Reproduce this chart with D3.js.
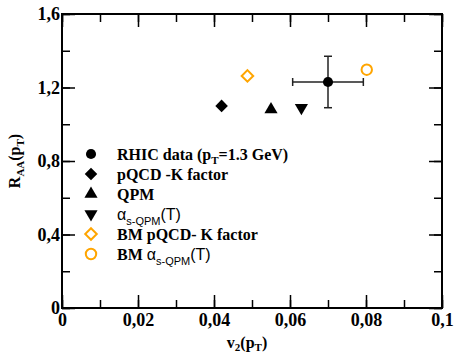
<!DOCTYPE html>
<html>
<head>
<meta charset="utf-8">
<script src="https://cdn.jsdelivr.net/npm/d3@7"></script>
<style>
  body { margin: 0; background: #fff; }
  text { font-family: "Liberation Serif", serif; font-weight: bold; }
  .sans { font-family: "Liberation Sans", sans-serif; font-weight: normal; }
</style>
</head>
<body>
<script>
// data
const seriesNames = ["RHIC data", "pQCD -K factor", "QPM", "alpha s-QPM(T)", "BM pQCD- K factor", "BM alpha s-QPM(T)"];
const v2Values = [0.070, 0.042, 0.055, 0.063, 0.0488, 0.0802];
const raaValues = [1.23, 1.10, 1.08, 1.09, 1.263, 1.297];
const v2Error = [0.0093, 0, 0, 0, 0, 0];
const raaError = [0.14, 0, 0, 0, 0, 0];
const xTicks = [0, 0.02, 0.04, 0.06, 0.08, 0.1];
const yTicks = [0, 0.4, 0.8, 1.2, 1.6];

const W = 456, H = 355;
const margin = {top: 14, right: 14, bottom: 47, left: 62};
const width = W - margin.left - margin.right,
      height = H - margin.top - margin.bottom;

const svg = d3.select("body").append("svg")
    .attr("width", W)
    .attr("height", H);

const g = svg.append("g")
    .attr("transform", "translate(" + margin.left + "," + margin.top + ")");

const x = d3.scaleLinear().domain([0, 0.1]).range([0, width]);
const y = d3.scaleLinear().domain([0, 1.6]).range([height, 0]);

const loc = d3.formatLocale({decimal: ",", thousands: ".", grouping: [3], currency: ["", ""]});
const fx = loc.format(".2~f"), fy = loc.format(".1~f");

const xMinor = d3.range(0, 0.1001, 0.01);
const yMinor = d3.range(0, 1.6001, 0.2);

function styleAxis(sel) {
  sel.select(".domain").remove();
  sel.selectAll(".tick line").attr("stroke", "#000").attr("stroke-width", 1.5);
  sel.selectAll(".tick text")
    .style("font-family", "'Liberation Serif', serif")
    .style("font-weight", "bold")
    .style("font-size", "18px")
    .attr("fill", "#000");
}

// minor ticks (inward, all four sides)
g.append("g").attr("transform", "translate(0," + height + ")")
  .call(d3.axisBottom(x).tickValues(xMinor).tickSize(-8).tickFormat("")).call(styleAxis);
g.append("g")
  .call(d3.axisTop(x).tickValues(xMinor).tickSize(-8).tickFormat("")).call(styleAxis);
g.append("g")
  .call(d3.axisLeft(y).tickValues(yMinor).tickSize(-8).tickFormat("")).call(styleAxis);
g.append("g").attr("transform", "translate(" + width + ",0)")
  .call(d3.axisRight(y).tickValues(yMinor).tickSize(-8).tickFormat("")).call(styleAxis);

// major ticks
g.append("g").attr("transform", "translate(0," + height + ")")
  .call(d3.axisBottom(x).tickValues(xTicks).tickSize(-13).tickPadding(5).tickFormat(fx)).call(styleAxis);
g.append("g")
  .call(d3.axisTop(x).tickValues(xTicks).tickSize(-13).tickFormat("")).call(styleAxis);
g.append("g")
  .call(d3.axisLeft(y).tickValues(yTicks).tickSize(-13).tickPadding(2).tickFormat(fy)).call(styleAxis);
g.append("g").attr("transform", "translate(" + width + ",0)")
  .call(d3.axisRight(y).tickValues(yTicks).tickSize(-13).tickFormat("")).call(styleAxis);

// frame
g.append("rect")
  .attr("width", width).attr("height", height)
  .attr("fill", "none").attr("stroke", "#000").attr("stroke-width", 2);

// marker shapes
const orange = "#ffa500";
const symbols = [
  {type: d3.symbolCircle, size: 80, fill: "#000", stroke: "none", rot: 0},
  {type: d3.symbolDiamond2, size: 100, fill: "#000", stroke: "none", rot: 0},
  {type: d3.symbolTriangle, size: 75, fill: "#000", stroke: "none", rot: 0},
  {type: d3.symbolTriangle, size: 75, fill: "#000", stroke: "none", rot: 180},
  {type: d3.symbolDiamond2, size: 85, fill: "none", stroke: orange, rot: 0},
  {type: d3.symbolCircle, size: 85, fill: "none", stroke: orange, rot: 0}
];

function drawMarker(sel, i, cx, cy) {
  const s = symbols[i];
  sel.append("path")
    .attr("d", d3.symbol().type(s.type).size(s.size)())
    .attr("transform", "translate(" + cx + "," + cy + ") rotate(" + s.rot + ")")
    .attr("fill", s.fill)
    .attr("stroke", s.stroke)
    .attr("stroke-width", 2);
}

// error bars
seriesNames.forEach((n, i) => {
  if (!v2Error[i] && !raaError[i]) return;
  const cx = x(v2Values[i]), cy = y(raaValues[i]);
  const x0 = x(v2Values[i] - v2Error[i]), x1 = x(v2Values[i] + v2Error[i]);
  const y0 = y(raaValues[i] - raaError[i]), y1 = y(raaValues[i] + raaError[i]);
  const e = g.append("g").attr("stroke", "#222").attr("stroke-width", 1.5);
  e.append("line").attr("x1", x0).attr("x2", x1).attr("y1", cy).attr("y2", cy);
  e.append("line").attr("x1", cx).attr("x2", cx).attr("y1", y0).attr("y2", y1);
  e.append("line").attr("x1", x0).attr("x2", x0).attr("y1", cy - 4).attr("y2", cy + 4);
  e.append("line").attr("x1", x1).attr("x2", x1).attr("y1", cy - 4).attr("y2", cy + 4);
  e.append("line").attr("x1", cx - 4).attr("x2", cx + 4).attr("y1", y0).attr("y2", y0);
  e.append("line").attr("x1", cx - 4).attr("x2", cx + 4).attr("y1", y1).attr("y2", y1);
});

// points
seriesNames.forEach((n, i) => drawMarker(g, i, x(v2Values[i]), y(raaValues[i])));

// legend
const legend = svg.append("g");
const legX = 91, legY = 154, legStep = 20, textX = 117;

function legendText(t, i) {
  const ty = legY + i * legStep + 6;
  const txt = legend.append("text").attr("x", textX).attr("y", ty).attr("font-size", 16).attr("fill", "#000");
  if (i === 0) {
    txt.append("tspan").text("RHIC data (p");
    txt.append("tspan").attr("font-size", 11).attr("dy", 4).text("T");
    txt.append("tspan").attr("dy", -4).text("=1.3 GeV)");
  } else if (i === 3 || i === 5) {
    if (i === 5) txt.append("tspan").text("BM ");
    txt.append("tspan").attr("class", "sans").text("\u03b1");
    txt.append("tspan").attr("class", "sans").attr("font-size", 11).attr("dy", 5).text("s-QPM");
    txt.append("tspan").attr("class", "sans").attr("dy", -5).text("(T)");
  } else {
    txt.text(t);
  }
}

seriesNames.forEach((n, i) => {
  drawMarker(legend, i, legX, legY + i * legStep);
  legendText(n, i);
});

// axis titles
const xt = svg.append("text")
  .attr("x", 247).attr("y", 348)
  .attr("text-anchor", "middle").attr("font-size", 16).attr("fill", "#000");
xt.append("tspan").text("v");
xt.append("tspan").attr("font-size", 11).attr("dy", 3).text("2");
xt.append("tspan").attr("dy", -3).text("(p");
xt.append("tspan").attr("font-size", 11).attr("dy", 3).text("T");
xt.append("tspan").attr("dy", -3).text(")");

const yt = svg.append("text")
  .attr("transform", "translate(20,161) rotate(-90)")
  .attr("text-anchor", "middle").attr("font-size", 16).attr("fill", "#000");
yt.append("tspan").text("R");
yt.append("tspan").attr("font-size", 11).attr("dy", 4).text("AA");
yt.append("tspan").attr("dy", -4).text("(p");
yt.append("tspan").attr("font-size", 11).attr("dy", 4).text("T");
yt.append("tspan").attr("dy", -4).text(")");
</script>
</body>
</html>
